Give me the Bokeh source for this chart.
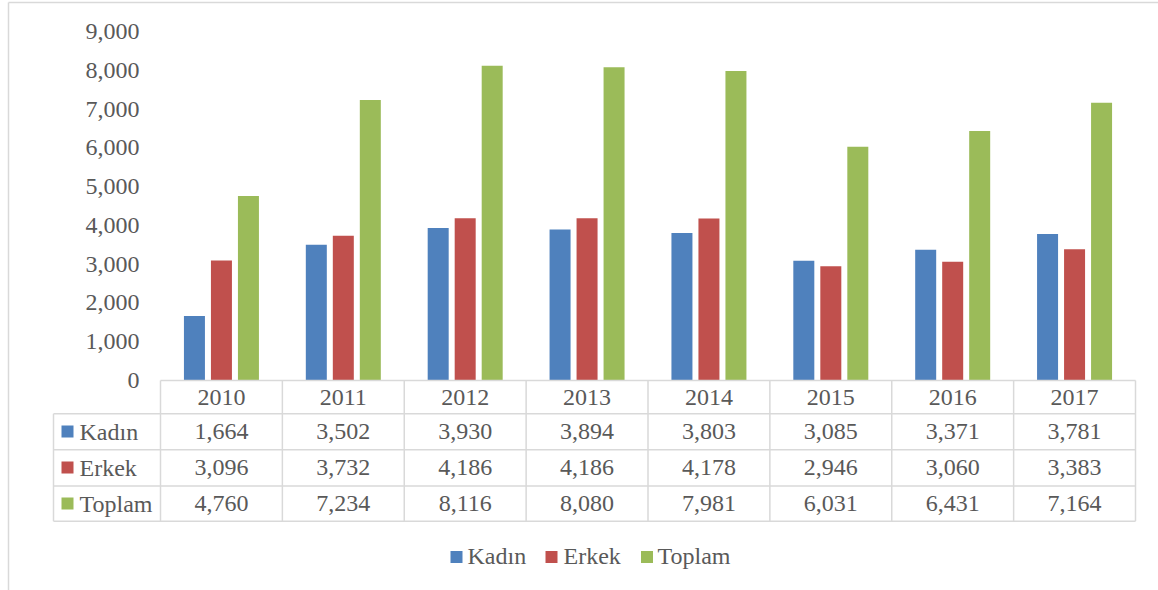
import numpy as np
from bokeh.plotting import figure
from bokeh.models import Range1d, ColumnDataSource
from bokeh.core.properties import value
from bokeh.embed import file_html
from bokeh.resources import INLINE

# ---------------- data ----------------
years = ["2010", "2011", "2012", "2013", "2014", "2015", "2016", "2017"]
series_names = ["Kadın", "Erkek", "Toplam"]
kadin = [1664, 3502, 3930, 3894, 3803, 3085, 3371, 3781]
erkek = [3096, 3732, 4186, 4186, 4178, 2946, 3060, 3383]
toplam = [4760, 7234, 8116, 8080, 7981, 6031, 6431, 7164]
y_ticks = [0, 1000, 2000, 3000, 4000, 5000, 6000, 7000, 8000, 9000]

colors = ["#4F81BD", "#C0504D", "#9BBB59"]
series = [kadin, erkek, toplam]

FONT = value("Liberation Serif")
FSIZE = value("24px")
TXT = "#595959"
GRID = "#d9d9d9"

# ---------------- layout helpers (canvas px -> data) ----------------
X0_PX, COL_PX = 160.0, 121.875
Y0_PX, PX_PER_UNIT = 380.0, 349.0 / 9000.0
W, H = 1158, 590


def dx(px):
    return (px - X0_PX) / COL_PX


def dy(py):
    return (Y0_PX - py) / PX_PER_UNIT


p = figure(width=W, height=H, output_backend="svg", toolbar_location=None,
           x_range=Range1d(dx(0), dx(W)), y_range=Range1d(dy(H), dy(0)),
           x_axis_location=None, y_axis_location=None, min_border=0,
           outline_line_color=None, background_fill_color="white",
           border_fill_color="white")
p.grid.grid_line_color = None

# chart area border (left and top)
p.segment(x0=[dx(8), dx(8)], y0=[dy(2), dy(2)], x1=[dx(8), dx(W)], y1=[dy(H), dy(2)],
          line_color=GRID, line_width=1.5)

# ---------------- bars ----------------
n = len(years)
centers = np.arange(n) + 0.5
bar_w = 21.0 / COL_PX
offsets = [-27.0 / COL_PX, 0.0, 27.0 / COL_PX]
for vals, col, off in zip(series, colors, offsets):
    src = ColumnDataSource(dict(x=centers + off, top=vals))
    p.vbar(x="x", top="top", bottom=0, width=bar_w, source=src,
           fill_color=col, line_color=None)

# ---------------- y tick labels ----------------
p.text(x=[dx(139)] * len(y_ticks), y=y_ticks, text=[f"{t:,}" for t in y_ticks],
       text_align="right", text_baseline="middle", text_font=FONT,
       text_font_size=FSIZE, text_color=TXT)

# ---------------- data table ----------------
row_edges_px = [380.0, 413.3, 449.3, 485.5, 520.7]
row_centers_px = [397.0, 431.0, 467.0, 503.0]
left_px, right_px = 53.0, 1135.0

# horizontal lines
hx0 = [dx(160)] + [dx(left_px)] * 4
hx1 = [dx(right_px)] * 5
hy = [dy(v) for v in row_edges_px]
p.segment(x0=hx0, y0=hy, x1=hx1, y1=hy, line_color=GRID, line_width=1.5)
# vertical lines
vx = list(np.arange(n + 1, dtype=float)) + [dx(left_px)]
vy0 = [dy(row_edges_px[0])] * (n + 1) + [dy(row_edges_px[1])]
vy1 = [dy(row_edges_px[-1])] * (n + 2)
p.segment(x0=vx, y0=vy0, x1=vx, y1=vy1, line_color=GRID, line_width=1.5)

# header years
p.text(x=centers, y=[dy(row_centers_px[0])] * n, text=years,
       text_align="center", text_baseline="middle", text_font=FONT,
       text_font_size=FSIZE, text_color=TXT)

# rows
for i, (name, vals, col) in enumerate(zip(series_names, series, colors)):
    yc = dy(row_centers_px[i + 1])
    p.text(x=centers, y=[yc] * n, text=[f"{v:,}" for v in vals],
           text_align="center", text_baseline="middle", text_font=FONT,
           text_font_size=FSIZE, text_color=TXT)
    p.scatter(x=[dx(67)], y=[yc], marker="square", size=12,
              fill_color=col, line_color=None)
    p.text(x=[dx(79)], y=[yc], text=[name], text_align="left",
           text_baseline="middle", text_font=FONT, text_font_size=FSIZE,
           text_color=TXT)

# ---------------- bottom legend ----------------
leg_sq_px = [456.0, 551.0, 646.5]
leg_tx_px = [467.0, 563.0, 657.0]
for name, col, sx, tx in zip(series_names, colors, leg_sq_px, leg_tx_px):
    p.scatter(x=[dx(sx)], y=[dy(556.5)], marker="square", size=12,
              fill_color=col, line_color=None)
    p.text(x=[dx(tx)], y=[dy(555.5)], text=[name], text_align="left",
           text_baseline="middle", text_font=FONT, text_font_size=FSIZE,
           text_color=TXT)

open("out.html", "w").write(file_html(p, INLINE))
